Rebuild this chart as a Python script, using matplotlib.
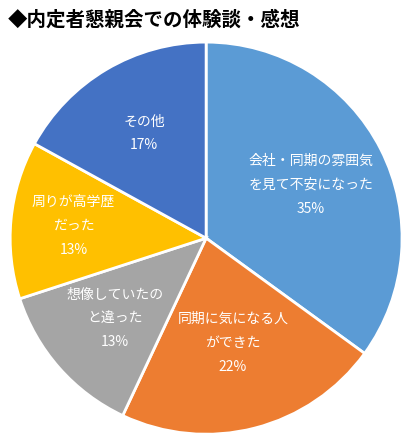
import numpy as np
import matplotlib.pyplot as plt

plt.rcParams['font.family'] = ['Noto Sans CJK JP', 'DejaVu Sans']

labels = ['会社・同期の雰囲気\nを見て不安になった', '同期に気になる人\nができた',
          '想像していたの\nと違った', '周りが高学歴\nだった', 'その他']
values = [35, 22, 13, 13, 17]
colors = ['#5B9BD5', '#ED7D31', '#A5A5A5', '#FFC000', '#4472C4']
label_r = [0.60, 0.55, 0.62, 0.68, 0.62]

fig = plt.figure(figsize=(4.11, 4.46), dpi=100)
ax = fig.add_axes([0.02, 0.022, 0.963, 0.888])
wedges, _ = ax.pie(values, colors=colors, startangle=90, counterclock=False,
                   wedgeprops=dict(edgecolor='white', linewidth=2))
for w, lab, v, r in zip(wedges, labels, values, label_r):
    ang = np.deg2rad((w.theta1 + w.theta2) / 2)
    ax.text(r * np.cos(ang), r * np.sin(ang), f'{lab}\n{v}%', ha='center', va='center',
            color='white', fontsize=10, linespacing=1.9)
ax.set_xlim(-1.01, 1.01)
ax.set_ylim(-1.01, 1.01)
ax.set_aspect('auto')

fig.text(0.02, 0.955, '◆内定者懇親会での体験談・感想', fontsize=14, fontweight='bold',
         va='center', ha='left')
fig.savefig('out.png', dpi=100)
